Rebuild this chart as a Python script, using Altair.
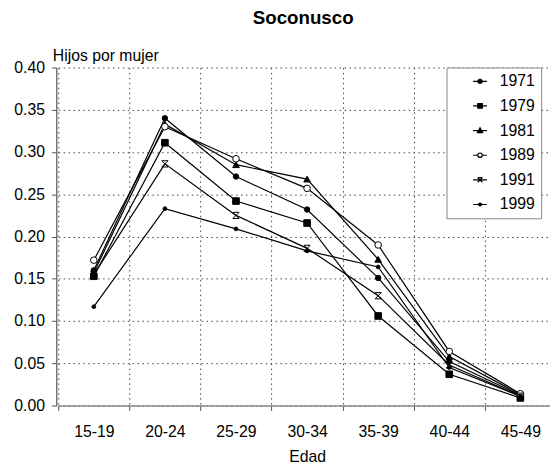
import altair as alt
import pandas as pd

# ---- data ----
edades = ["15-19", "20-24", "25-29", "30-34", "35-39", "40-44", "45-49"]
anios = ["1971", "1979", "1981", "1989", "1991", "1999"]
v1971 = [0.160, 0.340, 0.271, 0.232, 0.151, 0.052, 0.012]
v1979 = [0.153, 0.311, 0.242, 0.216, 0.106, 0.037, 0.009]
v1981 = [0.157, 0.333, 0.285, 0.268, 0.173, 0.058, 0.013]
v1989 = [0.172, 0.330, 0.292, 0.257, 0.190, 0.064, 0.014]
v1991 = [0.155, 0.286, 0.225, 0.186, 0.130, 0.048, 0.011]
v1999 = [0.117, 0.233, 0.209, 0.183, 0.164, 0.045, 0.011]
y_ticks = [0.0, 0.05, 0.10, 0.15, 0.20, 0.25, 0.30, 0.35, 0.40]

series = dict(zip(anios, [v1971, v1979, v1981, v1989, v1991, v1999]))
rows = []
for a, vals in series.items():
    for i, (e, v) in enumerate(zip(edades, vals)):
        rows.append({"edad": e, "anio": a, "valor": v, "orden": i})
df = pd.DataFrame(rows)

FONT = "Liberation Sans"

# marker styles (plot)
plot_shapes = ["circle", "square", "triangle-up", "circle",
               "M-1,-1L1,1M-1,1L1,-1M-1,-1H1M-1,1H1", "circle"]
plot_sizes = [30, 45, 45, 45, 40, 14]
plot_fills = ["black", "black", "black", "white", "none", "black"]

# marker styles (legend: line + marker)
legend_shapes = [
    "M-1,0H1M-0.3,0A0.3,0.3 0 1,0 0.3,0A0.3,0.3 0 1,0 -0.3,0Z",
    "M-1,0H1M-0.33,-0.33H0.33V0.33H-0.33Z",
    "M-1,0H1M0,-0.4L0.38,0.3H-0.38Z",
    "M-1,0H-0.32M0.32,0H1M-0.32,0A0.32,0.32 0 1,0 0.32,0A0.32,0.32 0 1,0 -0.32,0Z",
    "M-1,0H1M-0.34,-0.34L0.34,0.34M-0.34,0.34L0.34,-0.34M-0.34,-0.34H0.34",
    "M-1,0H1M-0.2,0A0.2,0.2 0 1,0 0.2,0A0.2,0.2 0 1,0 -0.2,0Z",
]
legend_fills = ["black", "black", "black", "transparent", "transparent", "black"]
legend_strokes = ["black"] * 6

x_enc = alt.X(
    "edad:N",
    sort=edades,
    bandPosition=0.5,
    scale=alt.Scale(type="band", domain=edades, paddingInner=0, paddingOuter=0, range=[2, 507]),
    axis=alt.Axis(
        title="Edad", labelAngle=0, tickBand="extent", tickSize=5,
        labelPadding=13, titleY=57, titleBaseline="alphabetic",
        grid=True, gridDash=[1.5, 3.5], gridColor="#444", gridWidth=1,
        domainColor="#888", domainWidth=1.5, tickColor="#555",
    ),
)
y_enc = alt.Y(
    "valor:Q",
    scale=alt.Scale(domain=[0, 0.4], nice=False),
    axis=alt.Axis(
        values=y_ticks, format=".2f", title="Hijos por mujer",
        titleAngle=0, titleAlign="left", titleBaseline="alphabetic",
        titleX=-4, titleY=-7, labelPadding=7, tickSize=5,
        grid=True, gridDash=[1.5, 3.5], gridColor="#444", gridWidth=1,
        domainColor="#555", domainWidth=1.2, tickColor="#555",
    ),
)

base = alt.Chart(df)

lines = base.mark_line(color="black", strokeWidth=1.2).encode(
    x=x_enc, y=y_enc, detail="anio:N", order=alt.Order("orden:Q")
)

point_layers = []
for a, shp, sz, fl in zip(anios, plot_shapes, plot_sizes, plot_fills):
    point_layers.append(
        base.transform_filter(alt.datum.anio == a).mark_point(
            shape=shp, size=sz, fill=fl, filled=(fl != "none"), stroke="black",
            strokeWidth=1, opacity=1,
        ).encode(x=x_enc, y=y_enc)
    )

legend_props = dict(
    title=None, orient="none", legendX=396, legendY=0,
    symbolSize=196, symbolStrokeWidth=1.2, symbolStrokeColor="black",
    symbolOpacity=1,
    labelFont=FONT, labelFontSize=16, labelColor="black",
    labelExpr="datum.label + '    '",
    strokeColor="#888", fillColor="white", padding=6,
    symbolOffset=20, labelOffset=12, rowPadding=9,
)

legend_layer = base.transform_filter("false").mark_point(
    filled=False, strokeWidth=1.2, opacity=1
).encode(
    x=x_enc, y=y_enc,
    shape=alt.Shape("anio:N", scale=alt.Scale(domain=anios, range=legend_shapes),
                    legend=alt.Legend(**legend_props)),
    fill=alt.Fill("anio:N", scale=alt.Scale(domain=anios, range=legend_fills),
                  legend=alt.Legend(**legend_props)),
    stroke=alt.Stroke("anio:N", scale=alt.Scale(domain=anios, range=legend_strokes),
                      legend=alt.Legend(**legend_props)),
)

chart = alt.layer(lines, *point_layers, legend_layer).properties(
    width=501,
    height=343,
    autosize=alt.AutoSizeParams(type="none"),
    padding={"left": 49, "top": 57, "right": 0, "bottom": 61},
    title=alt.TitleParams("Soconusco", font=FONT, fontSize=19, fontWeight="bold",
                          color="black", anchor="middle", offset=20),
).configure_view(stroke=None).configure_axis(
    labelFont=FONT, labelFontSize=16, labelColor="black",
    titleFont=FONT, titleFontSize=16, titleColor="black", titleFontWeight="normal",
)

chart.save("out.html", embed_options={"renderer": "svg", "actions": False})
